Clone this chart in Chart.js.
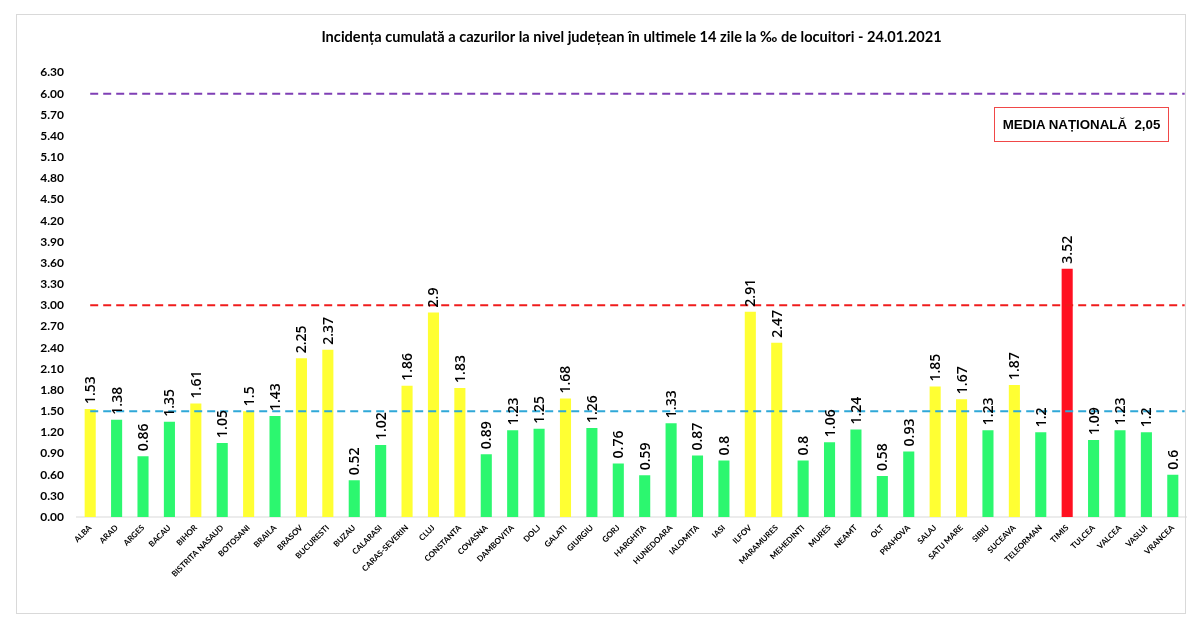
<!DOCTYPE html>
<html>
<head>
<meta charset="utf-8">
<script src="https://cdn.jsdelivr.net/npm/chart.js@4"></script>
<style>
  html, body { margin: 0; padding: 0; background: #fff; }
  #wrap { position: relative; width: 1198px; height: 626px; overflow: hidden; }
  #frame { position: absolute; left: 16px; top: 14px; width: 1168px; height: 598px; border: 1px solid #d9d9d9; }
  #media { position: absolute; left: 994px; top: 107px; width: 173px; height: 33px;
           border: 1px solid #f04848; text-align: center; white-space: pre;
           font: bold 13.3px/33px "Liberation Sans", sans-serif; color: #000; }
</style>
</head>
<body>
<div id="wrap">
  <div id="frame"></div>
  <canvas id="chart" width="1198" height="626"></canvas>
  <div id="media">MEDIA NAȚIONALĂ  2,05</div>
</div>
<script>
// Counties and their 14 day incidence
const counties = ['ALBA','ARAD','ARGES','BACAU','BIHOR','BISTRITA NASAUD','BOTOSANI','BRAILA','BRASOV','BUCURESTI','BUZAU','CALARASI','CARAS-SEVERIN','CLUJ','CONSTANTA','COVASNA','DAMBOVITA','DOLJ','GALATI','GIURGIU','GORJ','HARGHITA','HUNEDOARA','IALOMITA','IASI','ILFOV','MARAMURES','MEHEDINTI','MURES','NEAMT','OLT','PRAHOVA','SALAJ','SATU MARE','SIBIU','SUCEAVA','TELEORMAN','TIMIS','TULCEA','VALCEA','VASLUI','VRANCEA'];
const incidence = [1.53,1.38,0.86,1.35,1.61,1.05,1.5,1.43,2.25,2.37,0.52,1.02,1.86,2.9,1.83,0.89,1.23,1.25,1.68,1.26,0.76,0.59,1.33,0.87,0.8,2.91,2.47,0.8,1.06,1.24,0.58,0.93,1.85,1.67,1.23,1.87,1.2,3.52,1.09,1.23,1.2,0.6];
const thresholds = [1.5, 3, 6];
const thresholdColors = ['#2fa8d8', '#f01c1c', '#7f3fb5'];

function barColor(v) {
  if (v >= 3) return '#ff1020';
  if (v >= 1.5) return '#ffff33';
  return '#2cf76f';
}

// Value labels, turned 90 degrees above each bar
const valueLabels = {
  id: 'valueLabels',
  afterDatasetsDraw(chart) {
    const ctx = chart.ctx;
    const meta = chart.getDatasetMeta(chart.data.datasets.length - 1);
    ctx.save();
    ctx.fillStyle = '#000';
    ctx.font = '600 14px "Open Sans", sans-serif';
    ctx.textAlign = 'left';
    ctx.textBaseline = 'middle';
    meta.data.forEach(function (bar, i) {
      ctx.save();
      ctx.translate(bar.x + 1, bar.y - 5);
      ctx.rotate(-Math.PI / 2);
      ctx.fillText(String(incidence[i]), 0, 0);
      ctx.restore();
    });
    ctx.restore();
  }
};

const lineDatasets = thresholds.map(function (t, i) {
  return {
    type: 'line',
    xAxisID: 'xLine',
    data: [{ x: 0, y: t }, { x: counties.length - 0.55, y: t }],
    borderColor: thresholdColors[i],
    borderWidth: 2,
    borderDash: [8, 5],
    pointRadius: 0,
    order: 1
  };
});

new Chart(document.getElementById('chart'), {
  type: 'bar',
  plugins: [valueLabels],
  data: {
    labels: counties,
    datasets: [...lineDatasets, {
      type: 'bar',
      data: incidence,
      backgroundColor: incidence.map(barColor),
      grouped: false,
      barPercentage: 0.42,
      categoryPercentage: 1,
      order: 2
    }]
  },
  options: {
    responsive: false,
    animation: false,
    layout: { padding: { right: 12 } },
    plugins: {
      legend: { display: false },
      tooltip: { enabled: false },
      title: {
        display: true,
        fullSize: false,
        text: 'Incidența cumulată a cazurilor la nivel județean în ultimele 14 zile la ‰ de locuitori - 24.01.2021',
        color: '#000',
        font: { family: 'Lato, sans-serif', size: 14.6, weight: 'bold' },
        padding: { top: 29, bottom: 26 }
      }
    },
    scales: {
      x: {
        grid: { display: false },
        border: { color: '#ececec', width: 2 },
        ticks: {
          autoSkip: false,
          maxRotation: 45,
          minRotation: 45,
          color: '#000',
          padding: -2,
          font: { family: 'Lato, sans-serif', size: 8, weight: 'bold' }
        },
        afterFit(scale) { scale.height = 109; }
      },
      xLine: {
        type: 'linear',
        display: false,
        offset: false,
        min: -0.5,
        max: counties.length - 0.5
      },
      y: {
        min: 0,
        max: 6.3,
        grid: { display: false },
        border: { display: false },
        ticks: {
          stepSize: 0.3,
          color: '#000',
          padding: 5,
          font: { family: 'Lato, sans-serif', size: 12, weight: 'bold' },
          callback: function (v) { return v.toFixed(2); }
        },
        afterFit(scale) { scale.width = 77; }
      }
    }
  }
});
</script>
</body>
</html>
